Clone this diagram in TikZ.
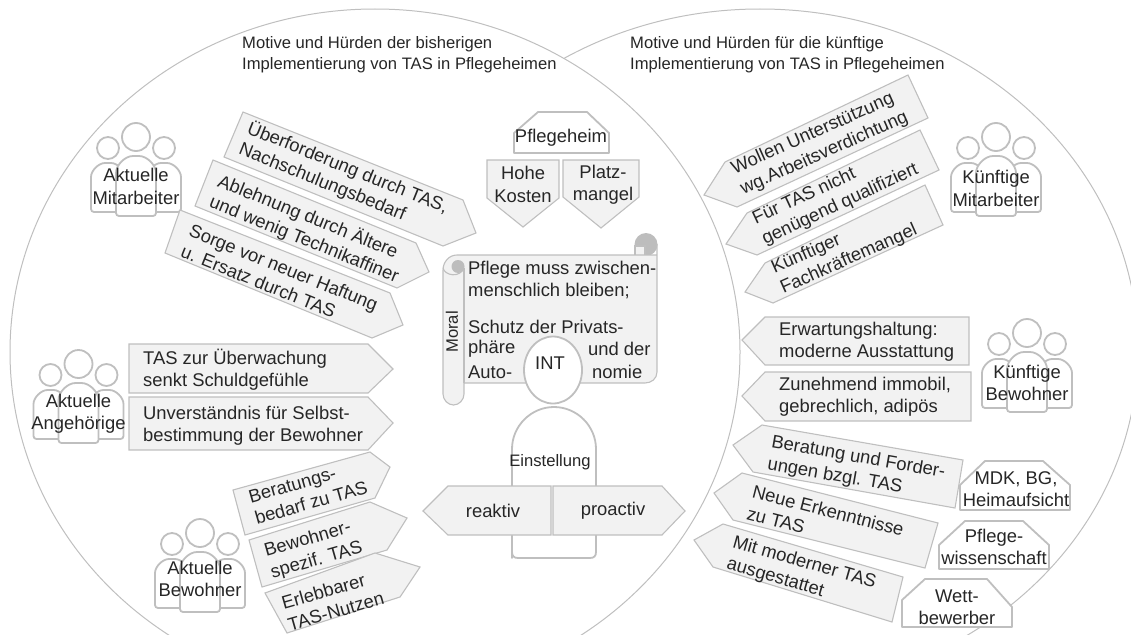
\documentclass[tikz,border=0pt]{standalone}
\usepackage{fontspec}
\setmainfont{Liberation Sans}
\definecolor{boxfill}{HTML}{F2F2F2}
\definecolor{boxline}{HTML}{BFBFBF}
\definecolor{curlgray}{HTML}{BDBDBD}
\definecolor{inktext}{HTML}{262626}
\newcommand\lblfont{\fontsize{18.4}{22.4}\selectfont}
\newcommand\smlfont{\fontsize{16.6}{21}\selectfont}
\tikzset{
  arcline/.style={draw=boxline,line width=1pt},
  tagbox/.style={draw=boxline,fill=boxfill,line width=1.1pt,line join=miter},
  actorbox/.style={draw=boxline,fill=white,line width=1.8pt,line join=round},
  personline/.style={draw=boxline,fill=white,line width=1.8pt,rounded corners=3pt},
  lbl/.style={font=\lblfont,text=inktext,inner sep=0pt,align=left,anchor=west},
  clbl/.style={font=\lblfont,text=inktext,inner sep=0pt,align=center},
  slbl/.style={font=\smlfont,text=inktext,inner sep=0pt,align=left},
}
\newcommand\peoplegroup[5]{%
  \begin{scope}[shift={(#2,#3)}]
    \draw[personline] (-45,75) -- (-45,43) .. controls (-45,33.6) and (-37.4,26) .. (-28,26)
       .. controls (-18.6,26) and (-11,33.6) .. (-11,43) -- (-11,75) -- cycle;
    \draw[personline] (45,75) -- (45,43) .. controls (45,33.6) and (37.4,26) .. (28,26)
       .. controls (18.6,26) and (11,33.6) .. (11,43) -- (11,75) -- cycle;
    \draw[personline] (-20,79) -- (-20,39) .. controls (-20,28) and (-11,19) .. (0,19)
       .. controls (11,19) and (20,28) .. (20,39) -- (20,79) -- cycle;
    \draw[personline] (-28,11) circle[radius=11];
    \draw[personline] (28,11) circle[radius=11];
    \draw[personline] (0,0) circle[radius=14];
    \node[clbl] (#1) at (0,#4) {#5};
  \end{scope}}
\begin{document}
\begin{tikzpicture}[x=1pt,y=-1pt]
\useasboundingbox (0,0) rectangle (1131,634);
\begin{scope}
  \clip (0,0) rectangle (1131,634);
  % the two arcs
  \draw[arcline] (375,352) ellipse [x radius=365,y radius=343];
  \begin{scope}[even odd rule]
    \clip (-10,-10) rectangle (1141,644) (375,352) ellipse [x radius=365,y radius=343];
    \draw[arcline] (760,350) ellipse [x radius=378,y radius=341];
  \end{scope}

  % headers
  \node[slbl,anchor=west] (headL) at (242,54.5) {Motive und Hürden der bisherigen\\Implementierung von TAS in Pflegeheimen};
  \node[slbl,anchor=west] (headR) at (630,54.5) {Motive und Hürden für die künftige\\Implementierung von TAS in Pflegeheimen};

  % left: current staff
  \peoplegroup{pMA}{136}{137}{49.5}{Aktuelle\\Mitarbeiter}
  \draw[tagbox] (243,112) -- (463,200) -- (476,233) -- (443,246) -- (224,157) -- cycle;
  \node[lbl,rotate=-22] (a1) at (244,138) {Überforderung durch TAS,\\Nachschulungsbedarf};
  \draw[tagbox] (213,160) -- (416,243) -- (429,272) -- (397,288) -- (195,206) -- cycle;
  \node[lbl,rotate=-22] (a2) at (214.5,191) {Ablehnung durch Ältere\\und wenig Technikaffiner};
  \draw[tagbox] (180,210) -- (390,293) -- (403,325) -- (372,338) -- (165,253) -- cycle;
  \node[lbl,rotate=-22] (a3) at (186,240) {Sorge vor neuer Haftung\\u. Ersatz durch TAS};

  % left: relatives
  \peoplegroup{pAN}{78.5}{364}{49.5}{Aktuelle\\Angehörige}
  \draw[tagbox] (129,344) -- (368,344) -- (393,369) -- (368,393) -- (129,393) -- cycle;
  \node[lbl] (b1) at (143,370) {TAS zur Überwachung\\senkt Schuldgefühle};
  \draw[tagbox] (129,397) -- (368,397) -- (393,423) -- (368,450) -- (129,450) -- cycle;
  \node[lbl] (b2) at (143,426) {Unverständnis für Selbst-\\bestimmung der Bewohner};

  % left: residents
  \peoplegroup{pBW}{200}{533}{46}{Aktuelle\\Bewohner}
  \draw[tagbox] (233,490) -- (370,452) -- (390,467) -- (375,498) -- (245,535) -- cycle;
  \node[lbl,rotate=16] (c1) at (252,508) {Beratungs-\\bedarf zu TAS};
  \draw[tagbox] (249,540) -- (370,502) -- (407,518) -- (387,550) -- (262,587) -- cycle;
  \node[lbl,rotate=16] (c2) at (268,563) {Bewohner-\\spezif. TAS};
  \draw[tagbox] (265,593) -- (375,553) -- (420,567) -- (400,597) -- (287,633) -- cycle;
  \node[lbl,rotate=16] (c3) at (285,614) {Erlebbarer\\TAS-Nutzen};

  % centre top
  \draw[actorbox] (514,153) -- (609,153) -- (609,133) -- (587,112) -- (538,112) -- (514,133) -- cycle;
  \node[clbl] (heim) at (561,138) {Pflegeheim};
  \draw[tagbox] (487,160) -- (559,160) -- (559,198) -- (523,227) -- (487,198) -- cycle;
  \node[clbl] (kosten) at (523,184.5) {Hohe\\Kosten};
  \draw[tagbox] (563,160) -- (639,160) -- (639,197) -- (601,228) -- (563,197) -- cycle;
  \node[clbl] (platz) at (603,184.5) {Platz-\\mangel};

  % scroll
  \fill[curlgray] (646,244.5) circle[radius=11.5];
  \draw[tagbox] (635,246) rectangle (645,256);
  \draw[tagbox] (443,270) .. controls (443,262) and (449,255) .. (457,255) -- (657,255) -- (657,244)
     -- (657,372) .. controls (657,379) and (651,383) .. (645,383) -- (464,383) -- (464,394)
     .. controls (464,400) and (459,405) .. (453.5,405) .. controls (448,405) and (443,400) .. (443,394) -- cycle;
  \draw[draw=boxline,line width=1.1pt] (464,383) -- (464,268);
  \draw[draw=boxline,line width=1.1pt] (443,268) .. controls (445,276) and (460,278) .. (464,268);
  \fill[curlgray] (458,266.5) circle[radius=6.5];
  \node[lbl] (m1) at (468,280) {Pflege muss zwischen-\\menschlich bleiben;};
  \node[lbl] (m2) at (468,327) {Schutz der Privats-};
  \node[lbl] (m3) at (468,349) {phäre};
  \node[lbl] (m4) at (468,372) {Auto-};
  \node[lbl] (m5) at (588,349) {und der};
  \node[lbl] (m6) at (592,372) {nomie};
  \node[slbl,rotate=90] (moral) at (452,332) {Moral};

  % INT and attitude
  \draw[actorbox] (512,558) -- (512,449) .. controls (512,426) and (531,407) .. (554,407)
     .. controls (577,407) and (596,426) .. (596,449) -- (596,552) .. controls (596,556) and (594,558) .. (590,558)
     -- (518,558) .. controls (514,558) and (512,556) .. (512,552) -- cycle;
  \draw[actorbox] (553,370) ellipse [x radius=29,y radius=33.5];
  \node[clbl] (int) at (550,363) {INT};
  \node[slbl] (einst) at (550,462) {Einstellung};
  \draw[tagbox] (423,511) -- (448,486) -- (551,486) -- (551,535) -- (448,535) -- cycle;
  \node[clbl] (reak) at (493,511) {reaktiv};
  \draw[tagbox] (553,486) -- (662,486) -- (685,511) -- (662,535) -- (553,535) -- cycle;
  \node[clbl] (proa) at (613,511) {proactiv};

  % right: future staff
  \peoplegroup{pKM}{996}{137}{51.5}{Künftige\\Mitarbeiter}
  \draw[tagbox] (704,195) -- (725,162) -- (908,75) -- (928,118) -- (737,207) -- cycle;
  \node[lbl,rotate=24] (d1) at (737,180) {Wollen Unterstützung\\wg.Arbeitsverdichtung};
  \draw[tagbox] (726,244) -- (747,213) -- (920,130) -- (939,170) -- (757,255) -- cycle;
  \node[lbl,rotate=25] (d2) at (758.5,230.5) {Für TAS nicht\\genügend qualifiziert};
  \draw[tagbox] (745,292) -- (765,263) -- (925,185) -- (943,225) -- (773,303) -- cycle;
  \node[lbl,rotate=24] (d3) at (777,279.5) {Künftiger\\Fachkräftemangel};

  % right: future residents
  \peoplegroup{pKB}{1027}{333}{50}{Künftige\\Bewohner}
  \draw[tagbox] (742,340) -- (765,317) -- (969,317) -- (969,365) -- (765,365) -- cycle;
  \node[lbl] (e1) at (779,342) {Erwartungshaltung:\\moderne Ausstattung};
  \draw[tagbox] (742,396) -- (765,372) -- (971,372) -- (971,421) -- (765,421) -- cycle;
  \node[lbl] (e2) at (779,397) {Zunehmend immobil,\\gebrechlich, adipös};

  % right: external actors
  \draw[tagbox] (733,445) -- (762,425) -- (963,460) -- (955,508) -- (753,472) -- cycle;
  \node[lbl,rotate=-10] (f1) at (769.5,453.5) {Beratung und Forder-\\ungen bzgl. TAS};
  \draw[tagbox] (714,493) -- (742,473) -- (938,523) -- (925,568) -- (733,520) -- cycle;
  \node[lbl,rotate=-14.5] (f2) at (750,502) {Neue Erkenntnisse\\zu TAS};
  \draw[tagbox] (694,540) -- (723,524) -- (903,577) -- (892,622) -- (713,567) -- cycle;
  \node[lbl,rotate=-16] (f3) at (730,553.5) {Mit moderner TAS\\ausgestattet};

  \draw[actorbox] (960,510) -- (1070,510) -- (1070,485) -- (1043,461) -- (985,461) -- (960,485) -- cycle;
  \node[clbl] (mdk) at (1016,489) {MDK, BG,\\Heimaufsicht};
  \draw[actorbox] (939,569) -- (1049,569) -- (1049,545) -- (1023,521) -- (965,521) -- (939,545) -- cycle;
  \node[clbl] (wiss) at (994,547) {Pflege-\\wissenschaft};
  \draw[actorbox] (902,627) -- (1012,627) -- (1012,607) -- (987,579) -- (925,579) -- (902,600) -- cycle;
  \node[clbl] (wett) at (957,607) {Wett-\\bewerber};
\end{scope}
\end{tikzpicture}
\end{document}
